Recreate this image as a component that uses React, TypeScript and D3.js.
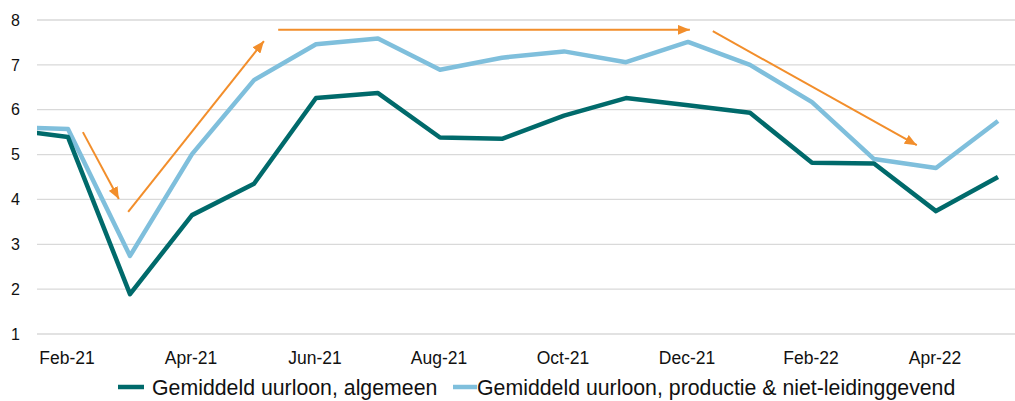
import React, { useEffect, useRef } from 'react';
import * as d3 from 'd3';

// months; Jan-21 sits left of the plot and is clipped, as in the original
const MONTHS = ["Jan-21", "Feb-21", "Mar-21", "Apr-21", "May-21", "Jun-21", "Jul-21", "Aug-21", "Sep-21",
  "Oct-21", "Nov-21", "Dec-21", "Jan-22", "Feb-22", "Mar-22", "Apr-22", "May-22"];
const ALGEMEEN = [5.57, 5.39, 1.89, 3.65, 4.35, 6.26, 6.37, 5.38, 5.35, 5.87, 6.26, 6.1, 5.93, 4.82, 4.8, 3.74, 4.5];
const PRODUCTIE = [5.61, 5.57, 2.74, 5.01, 6.66, 7.46, 7.59, 6.89, 7.16, 7.3, 7.06, 7.51, 7.0, 6.17, 4.9, 4.7, 5.75];
const Y_TICKS = [1, 2, 3, 4, 5, 6, 7, 8];
const X_LABELS = ["Feb-21", "Apr-21", "Jun-21", "Aug-21", "Oct-21", "Dec-21", "Feb-22", "Apr-22"];
const SERIES_NAMES = ["Gemiddeld uurloon, algemeen", "Gemiddeld uurloon, productie & niet-leidinggevend"];
// trend arrows, in (month index from Feb-21, value)
const ARROWS = [
  { x1: 0.24, y1: 5.5, x2: 0.82, y2: 4.01 },
  { x1: 0.97, y1: 3.72, x2: 3.16, y2: 7.53 },
  { x1: 3.39, y1: 7.78, x2: 10.03, y2: 7.78 },
  { x1: 10.4, y1: 7.75, x2: 13.69, y2: 5.21 },
];

const DARK = "#006a6b";
const LIGHT = "#7fbfdc";
const ORANGE = "#f28e2b";
const FONT = "'Liberation Sans', Arial, sans-serif";

export default function App() {
  const svgRef = useRef(null);
  const W = 1015, H = 401;
  const PLOT_LEFT = 37, PLOT_RIGHT = 1015;

  useEffect(() => {
    const svg = d3.select(svgRef.current);
    svg.selectAll("*").remove();

    const x = d3.scaleLinear().domain([0, 15]).range([68, 998]);
    const y = d3.scaleLinear().domain([1, 8]).range([334, 20]);
    const idx = (i) => i - 1; // MONTHS index -> position index

    const defs = svg.append("defs");
    defs.append("clipPath").attr("id", "plotclip")
      .append("rect").attr("x", PLOT_LEFT).attr("y", 0)
      .attr("width", PLOT_RIGHT - PLOT_LEFT).attr("height", H);
    defs.append("marker")
      .attr("id", "arrowhead")
      .attr("markerUnits", "userSpaceOnUse")
      .attr("viewBox", "0 0 12 10")
      .attr("refX", 12).attr("refY", 5)
      .attr("markerWidth", 12).attr("markerHeight", 10)
      .attr("orient", "auto")
      .append("path").attr("d", "M0,0 L12,5 L0,10 Z").attr("fill", ORANGE);

    // gridlines
    svg.append("g").selectAll("line")
      .data(Y_TICKS)
      .join("line")
      .attr("x1", PLOT_LEFT).attr("x2", PLOT_RIGHT)
      .attr("y1", d => y(d)).attr("y2", d => y(d))
      .attr("stroke", "#d9d9d9").attr("stroke-width", 1.3);

    // y tick labels
    svg.append("g").selectAll("text")
      .data(Y_TICKS)
      .join("text")
      .attr("x", 20).attr("y", d => y(d)).attr("dy", "0.36em")
      .attr("text-anchor", "end")
      .style("font-family", FONT).style("font-size", "16px").style("fill", "#111")
      .text(d => d);

    // x labels
    svg.append("g").selectAll("text")
      .data(X_LABELS)
      .join("text")
      .attr("x", d => x(idx(MONTHS.indexOf(d))) - 1)
      .attr("y", 364)
      .attr("text-anchor", "middle")
      .style("font-family", FONT).style("font-size", "17.5px").style("fill", "#111")
      .text(d => d);

    const line = d3.line()
      .x((d, i) => x(idx(i)))
      .y(d => y(d));

    const lines = svg.append("g").attr("clip-path", "url(#plotclip)");
    lines.append("path").datum(PRODUCTIE)
      .attr("d", line).attr("fill", "none")
      .attr("stroke", LIGHT).attr("stroke-width", 4.5).attr("stroke-linejoin", "round");
    lines.append("path").datum(ALGEMEEN)
      .attr("d", line).attr("fill", "none")
      .attr("stroke", DARK).attr("stroke-width", 4.5).attr("stroke-linejoin", "round");

    // trend arrows
    svg.append("g").selectAll("line")
      .data(ARROWS)
      .join("line")
      .attr("x1", d => x(d.x1)).attr("y1", d => y(d.y1))
      .attr("x2", d => x(d.x2)).attr("y2", d => y(d.y2))
      .attr("stroke", ORANGE).attr("stroke-width", 2)
      .attr("marker-end", "url(#arrowhead)");

    // legend
    const leg = svg.append("g");
    const legY = 387;
    leg.append("line").attr("x1", 118).attr("x2", 144).attr("y1", legY).attr("y2", legY)
      .attr("stroke", DARK).attr("stroke-width", 4.5);
    leg.append("text").attr("x", 152).attr("y", 395)
      .style("font-family", FONT).style("font-size", "21.3px").style("fill", "#111")
      .text(SERIES_NAMES[0]);
    leg.append("line").attr("x1", 453).attr("x2", 477).attr("y1", legY).attr("y2", legY)
      .attr("stroke", LIGHT).attr("stroke-width", 4.5);
    leg.append("text").attr("x", 477).attr("y", 395)
      .style("font-family", FONT).style("font-size", "21.3px").style("fill", "#111")
      .text(SERIES_NAMES[1]);
  }, []);

  return (
    <svg ref={svgRef} width={W} height={H}
      style={{ position: "absolute", left: 0, top: 0, background: "#fff" }} />
  );
}
